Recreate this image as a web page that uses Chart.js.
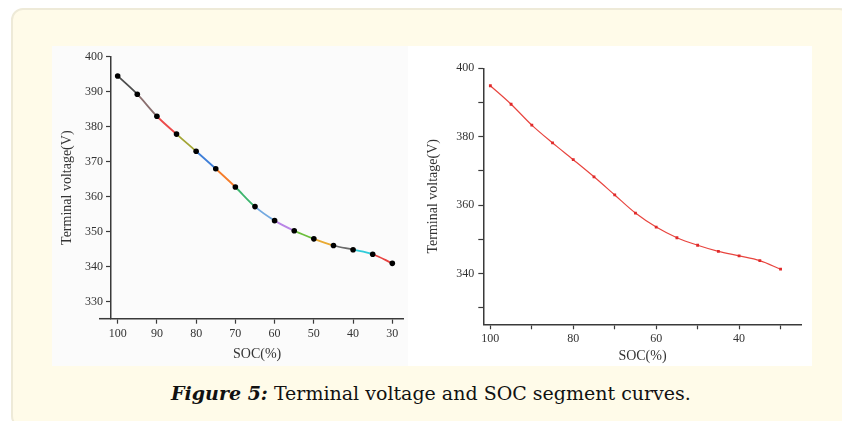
<!DOCTYPE html>
<html>
<head>
<meta charset="utf-8">
<script src="https://cdn.jsdelivr.net/npm/chart.js@4.4.1/dist/chart.umd.min.js"></script>
<style>
  html, body { margin: 0; padding: 0; background: #fff; }
  body { width: 842px; height: 421px; position: relative; overflow: hidden; }
  #frame {
    position: absolute; left: 11px; top: 8px; width: 840px; height: 420px;
    background: #fffbe9; border: 2px solid #eeead8; border-radius: 12px;
    box-sizing: border-box;
  }
  #panel { position: absolute; left: 52px; top: 46px; width: 760px; height: 320px; background: #fff; }
  #leftBox { position: absolute; left: 52px; top: 46px; width: 356px; height: 320px; background: #fbfbfb; }
  #rightBox { position: absolute; left: 408px; top: 46px; width: 404px; height: 320px; }
  #caption {
    position: absolute; left: 0; width: 862px; top: 382px; text-align: center;
    font-family: "DejaVu Serif", serif; font-size: 19px; color: #111;
  }
  #caption b { font-style: italic; }
</style>
</head>
<body>
<div id="frame"></div>
<div id="panel"></div>
<div id="leftBox"><canvas id="leftChart"></canvas></div>
<div id="rightBox"><canvas id="rightChart"></canvas></div>
<div id="caption"><b>Figure 5:</b> Terminal voltage and SOC segment curves.</div>
<script>
;(function (Chart) {
  // SOC (%) sample points, same for both plots
  var soc = [100, 95, 90, 85, 80, 75, 70, 65, 60, 55, 50, 45, 40, 35, 30]

  var voltLeft = [394.5, 389.3, 383.0, 377.9, 373.0, 368.0, 362.8, 357.2, 353.2, 350.3, 348.0, 346.1, 344.9, 343.6, 341.0]
  var voltRight = [394.9, 389.5, 383.4, 378.2, 373.3, 368.3, 363.0, 357.7, 353.6, 350.5, 348.3, 346.5, 345.2, 343.8, 341.3]

  // one colour per segment of the left curve
  var segColors = ['#4d4d4d', '#8a6f6f', '#ec4b4b', '#a3a535', '#3f7fd8', '#f57d2a', '#3db56e',
    '#73a9e0', '#b985e6', '#6cbf3c', '#e9aa33', '#6a6a6a', '#2fcbd9', '#e8413f']

  var serif = '"Liberation Serif", "Times New Roman", serif'
  var axisColor = '#3a3a3a'

  function pts (ys) {
    var out = []
    for (var i = 0; i < soc.length; i++) out.push({ x: soc[i], y: ys[i] })
    return out
  }

  function fixed (size) {
    return function (scale) {
      if (scale.isHorizontal()) scale.height = size
      else scale.width = size
    }
  }

  // x axis line in the left plot runs a bit past the y axis
  var axisStub = {
    id: 'axisStub',
    afterDraw: function (chart) {
      var a = chart.chartArea
      var ctx = chart.ctx
      ctx.save()
      ctx.strokeStyle = axisColor
      ctx.lineWidth = 1.5
      ctx.beginPath()
      ctx.moveTo(a.left - 12, a.bottom)
      ctx.lineTo(a.left, a.bottom)
      ctx.stroke()
      ctx.restore()
    }
  }

  Chart.defaults.font.family = serif
  Chart.defaults.color = '#333'

  new Chart(document.getElementById('leftChart'), {
    type: 'line',
    data: {
      datasets: [{
        data: pts(voltLeft),
        borderWidth: 1.8,
        cubicInterpolationMode: 'monotone',
        segment: { borderColor: function (c) { return segColors[c.p0DataIndex] } },
        pointRadius: 2.8,
        pointBackgroundColor: '#000',
        pointBorderColor: '#000',
        pointBorderWidth: 0
      }]
    },
    options: {
      responsive: true,
      maintainAspectRatio: false,
      animation: false,
      layout: { padding: { top: 10.7, right: 4.7, left: 0, bottom: 0 } },
      plugins: { legend: { display: false }, tooltip: { enabled: false } },
      scales: {
        x: {
          type: 'linear', reverse: true, min: 27.2, max: 101.7,
          afterFit: fixed(47.3),
          border: { color: axisColor, width: 1.5 },
          grid: { drawOnChartArea: false, color: axisColor, tickLength: 5, tickWidth: 1.2 },
          ticks: { stepSize: 10, includeBounds: false, font: { size: 12 }, padding: 3, maxRotation: 0 },
          title: { display: true, text: 'SOC(%)', font: { size: 14 }, padding: { top: 0, bottom: 3.6 } }
        },
        y: {
          min: 325.2, max: 400,
          afterFit: fixed(59),
          border: { color: axisColor, width: 1.5 },
          grid: { drawOnChartArea: false, color: axisColor, tickLength: 5, tickWidth: 1.2 },
          ticks: { stepSize: 10, includeBounds: false, font: { size: 12 }, padding: 3 },
          title: { display: true, text: 'Terminal voltage(V)', font: { size: 14 }, padding: { top: 6.6, bottom: 0 } }
        }
      }
    },
    plugins: [axisStub]
  })

  new Chart(document.getElementById('rightChart'), {
    type: 'line',
    data: {
      datasets: [{
        data: pts(voltRight),
        borderColor: '#e8453f',
        borderWidth: 1.2,
        cubicInterpolationMode: 'monotone',
        pointStyle: 'rect',
        pointRadius: 2,
        pointBackgroundColor: '#e02a2a',
        pointBorderColor: '#e02a2a',
        pointBorderWidth: 0
      }]
    },
    options: {
      responsive: true,
      maintainAspectRatio: false,
      animation: false,
      layout: { padding: { top: 22.3, right: 10.3, left: 0, bottom: 0 } },
      plugins: { legend: { display: false }, tooltip: { enabled: false } },
      scales: {
        x: {
          type: 'linear', reverse: true, min: 24.9, max: 101.7,
          afterFit: fixed(41.7),
          border: { color: axisColor, width: 1.5 },
          grid: { drawOnChartArea: false, color: axisColor, tickLength: 5, tickWidth: 1.2 },
          ticks: {
            stepSize: 10, includeBounds: false, font: { size: 12 }, padding: 2, maxRotation: 0, autoSkip: false,
            callback: function (v) { return v % 20 === 0 ? v : '' }
          },
          title: { display: true, text: 'SOC(%)', font: { size: 14 }, padding: { top: 0, bottom: 1.2 } }
        },
        y: {
          min: 325.2, max: 400,
          afterFit: fixed(75.3),
          border: { color: axisColor, width: 1.5 },
          grid: { drawOnChartArea: false, color: axisColor, tickLength: 5, tickWidth: 1.2 },
          ticks: {
            stepSize: 10, includeBounds: false, font: { size: 12 }, padding: 4, autoSkip: false,
            callback: function (v) { return v % 20 === 0 ? v : '' }
          },
          title: { display: true, text: 'Terminal voltage(V)', font: { size: 14 }, padding: { top: 16.6, bottom: 0 } }
        }
      }
    }
  })
})(Chart);
</script>
</body>
</html>
